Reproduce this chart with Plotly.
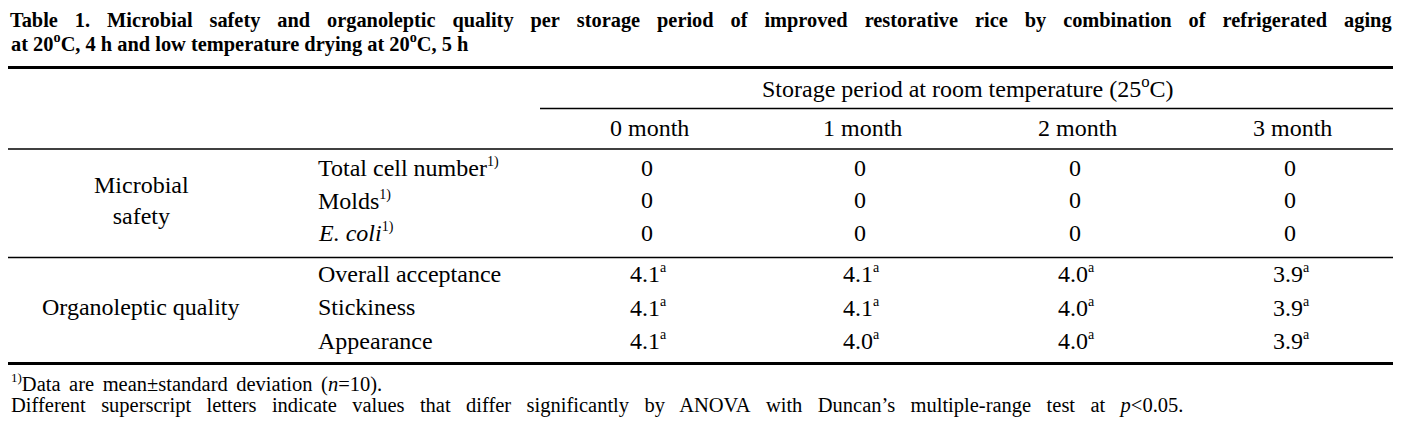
import plotly.graph_objects as go

# ---- data ----
title_lines = [
    "Table 1. Microbial safety and organoleptic quality per storage period of improved restorative rice by combination of refrigerated aging",
    "at 20<sup>o</sup>C, 4 h and low temperature drying at 20<sup>o</sup>C, 5 h",
]
header_group = "Storage period at room temperature (25<sup>o</sup>C)"
periods = ["0 month", "1 month", "2 month", "3 month"]
groups = ["Microbial<br>safety", "Organoleptic quality"]
micro_items = ["Total cell number", "Molds", "<i>E. coli</i>"]
micro_note = "1)"
micro_values = [
    [0, 0, 0, 0],
    [0, 0, 0, 0],
    [0, 0, 0, 0],
]
organo_items = ["Overall acceptance", "Stickiness", "Appearance"]
organo_values = [
    [4.1, 4.1, 4.0, 3.9],
    [4.1, 4.1, 4.0, 3.9],
    [4.1, 4.0, 4.0, 3.9],
]
organo_letters = [
    ["a", "a", "a", "a"],
    ["a", "a", "a", "a"],
    ["a", "a", "a", "a"],
]
footnotes = [
    "Data are mean\u00b1standard deviation (<i>n</i>=10).",
    "Different superscript letters indicate values that differ significantly by ANOVA with Duncan\u2019s multiple-range test at <i>p</i><0.05.",
]

# ---- layout (coordinates are page pixels; page body has an 8px margin) ----
W, H = 1401, 430
OFF = 8
FONT = "Liberation Serif"
fs = 24
col_x = [647, 860, 1075, 1290]
label_x = 316
group_x = 141
micro_y = [169, 201.5, 234]
organo_y = [275, 308.5, 342]
DY = -1.5


def sup_small(s, size):
    return f"<sup><span style='font-size:{size}px'>{s}</span></sup>"


def spaced(s, gap):
    return s.replace(" ", gap)


fig = go.Figure()
ann = []


def txt(x, y, s, size=fs, anchor="center", bold=False, pad=1):
    ann.append(dict(x=x, y=y + DY, text=(f"<b>{s}</b>" if bold else s), showarrow=False,
                    xanchor=anchor, yanchor="middle", borderpad=pad,
                    font=dict(family=FONT, size=size, color="black")))


txt(8.5, 21.5, spaced(title_lines[0], "\u2002\u2004"), size=20.35, anchor="left", bold=True, pad=0)
txt(8.5, 44, title_lines[1], size=20.4, anchor="left", bold=True)
txt(968, 88, header_group)
for x, p in zip(col_x, periods):
    txt(x + 2, 129, p)

txt(group_x, 201.5, groups[0])
for y, item, vals in zip(micro_y, micro_items, micro_values):
    txt(label_x, y, item + sup_small(micro_note, 14), anchor="left")
    for x, v in zip(col_x, vals):
        txt(x, y, f"{v}")

txt(group_x, 308.5, groups[1])
for y, item, vals, lets in zip(organo_y, organo_items, organo_values, organo_letters):
    txt(label_x, y, item, anchor="left")
    for x, v, l in zip(col_x, vals, lets):
        txt(x + 1, y, f"{v:.1f}" + sup_small(l, 14))

txt(9, 384, sup_small("1)", 13) + spaced(footnotes[0], " \u2006"), size=20.5, anchor="left")
txt(9, 407, spaced(footnotes[1], "\u2002 "), size=20.5, anchor="left")

shapes = []


def hline(x0, x1, y, w):
    shapes.append(dict(type="line", x0=x0, x1=x1, y0=y, y1=y, xref="x", yref="y",
                       line=dict(color="black", width=w)))


hline(8, 1397, 67.5, 3.2)
hline(540, 1397, 108.5, 1.3)
hline(8, 1397, 149, 1.3)
hline(8, 1397, 257.5, 1.3)
hline(8, 1397, 363.5, 3.2)

fig.update_layout(
    width=W - OFF, height=H - OFF, margin=dict(l=0, r=0, t=0, b=0),
    paper_bgcolor="white", plot_bgcolor="white",
    xaxis=dict(range=[OFF, W], visible=False, fixedrange=True),
    yaxis=dict(range=[H, OFF], visible=False, fixedrange=True),
    annotations=ann, shapes=shapes, showlegend=False,
)
fig.write_html("out.html")
